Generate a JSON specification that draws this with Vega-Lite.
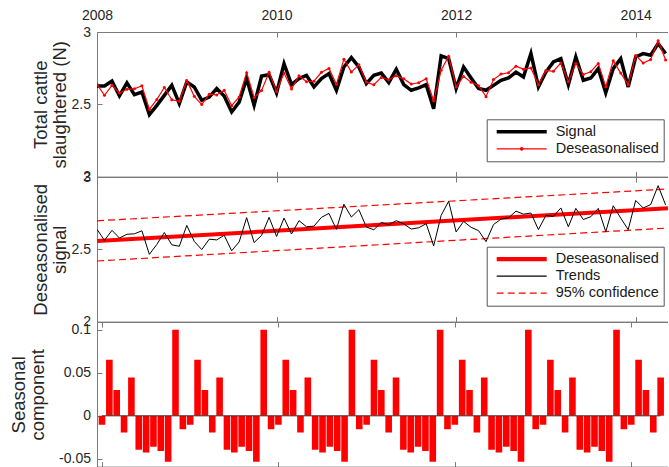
{
  "$schema": "https://vega.github.io/schema/vega-lite/v6.json",
  "background": "white",
  "padding": {"left": 9, "top": 8, "right": 0, "bottom": 0},
  "bounds": "flush",
  "spacing": 0,
  "datasets": {
    "monthly": [
      {"t": 2008, "signal": 2.627, "deseasonalised": 2.638, "seasonal": -0.0105},
      {"t": 2008.0833, "signal": 2.627, "deseasonalised": 2.562, "seasonal": 0.065},
      {"t": 2008.1667, "signal": 2.661, "deseasonalised": 2.631, "seasonal": 0.03},
      {"t": 2008.25, "signal": 2.558, "deseasonalised": 2.578, "seasonal": -0.0195},
      {"t": 2008.3333, "signal": 2.648, "deseasonalised": 2.604, "seasonal": 0.0445},
      {"t": 2008.4167, "signal": 2.567, "deseasonalised": 2.607, "seasonal": -0.0395},
      {"t": 2008.5, "signal": 2.585, "deseasonalised": 2.628, "seasonal": -0.0425},
      {"t": 2008.5833, "signal": 2.429, "deseasonalised": 2.465, "seasonal": -0.036},
      {"t": 2008.6667, "signal": 2.493, "deseasonalised": 2.534, "seasonal": -0.041},
      {"t": 2008.75, "signal": 2.562, "deseasonalised": 2.616, "seasonal": -0.0535},
      {"t": 2008.8333, "signal": 2.631, "deseasonalised": 2.531, "seasonal": 0.1},
      {"t": 2008.9167, "signal": 2.505, "deseasonalised": 2.521, "seasonal": -0.0155},
      {"t": 2009, "signal": 2.654, "deseasonalised": 2.665, "seasonal": -0.0105},
      {"t": 2009.0833, "signal": 2.62, "deseasonalised": 2.555, "seasonal": 0.065},
      {"t": 2009.1667, "signal": 2.528, "deseasonalised": 2.498, "seasonal": 0.03},
      {"t": 2009.25, "signal": 2.55, "deseasonalised": 2.57, "seasonal": -0.0195},
      {"t": 2009.3333, "signal": 2.609, "deseasonalised": 2.565, "seasonal": 0.0445},
      {"t": 2009.4167, "signal": 2.557, "deseasonalised": 2.597, "seasonal": -0.0395},
      {"t": 2009.5, "signal": 2.447, "deseasonalised": 2.49, "seasonal": -0.0425},
      {"t": 2009.5833, "signal": 2.515, "deseasonalised": 2.551, "seasonal": -0.036},
      {"t": 2009.6667, "signal": 2.678, "deseasonalised": 2.719, "seasonal": -0.041},
      {"t": 2009.75, "signal": 2.493, "deseasonalised": 2.547, "seasonal": -0.0535},
      {"t": 2009.8333, "signal": 2.696, "deseasonalised": 2.596, "seasonal": 0.1},
      {"t": 2009.9167, "signal": 2.705, "deseasonalised": 2.721, "seasonal": -0.0155},
      {"t": 2010, "signal": 2.578, "deseasonalised": 2.589, "seasonal": -0.0105},
      {"t": 2010.0833, "signal": 2.781, "deseasonalised": 2.716, "seasonal": 0.065},
      {"t": 2010.1667, "signal": 2.636, "deseasonalised": 2.606, "seasonal": 0.03},
      {"t": 2010.25, "signal": 2.678, "deseasonalised": 2.698, "seasonal": -0.0195},
      {"t": 2010.3333, "signal": 2.7, "deseasonalised": 2.656, "seasonal": 0.0445},
      {"t": 2010.4167, "signal": 2.62, "deseasonalised": 2.66, "seasonal": -0.0395},
      {"t": 2010.5, "signal": 2.678, "deseasonalised": 2.721, "seasonal": -0.0425},
      {"t": 2010.5833, "signal": 2.712, "deseasonalised": 2.748, "seasonal": -0.036},
      {"t": 2010.6667, "signal": 2.597, "deseasonalised": 2.638, "seasonal": -0.041},
      {"t": 2010.75, "signal": 2.758, "deseasonalised": 2.812, "seasonal": -0.0535},
      {"t": 2010.8333, "signal": 2.823, "deseasonalised": 2.723, "seasonal": 0.1},
      {"t": 2010.9167, "signal": 2.758, "deseasonalised": 2.774, "seasonal": -0.0155},
      {"t": 2011, "signal": 2.643, "deseasonalised": 2.654, "seasonal": -0.0105},
      {"t": 2011.0833, "signal": 2.7, "deseasonalised": 2.635, "seasonal": 0.065},
      {"t": 2011.1667, "signal": 2.716, "deseasonalised": 2.686, "seasonal": 0.03},
      {"t": 2011.25, "signal": 2.65, "deseasonalised": 2.67, "seasonal": -0.0195},
      {"t": 2011.3333, "signal": 2.742, "deseasonalised": 2.698, "seasonal": 0.0445},
      {"t": 2011.4167, "signal": 2.636, "deseasonalised": 2.676, "seasonal": -0.0395},
      {"t": 2011.5, "signal": 2.597, "deseasonalised": 2.64, "seasonal": -0.0425},
      {"t": 2011.5833, "signal": 2.613, "deseasonalised": 2.649, "seasonal": -0.036},
      {"t": 2011.6667, "signal": 2.636, "deseasonalised": 2.677, "seasonal": -0.041},
      {"t": 2011.75, "signal": 2.47, "deseasonalised": 2.524, "seasonal": -0.0535},
      {"t": 2011.8333, "signal": 2.835, "deseasonalised": 2.735, "seasonal": 0.1},
      {"t": 2011.9167, "signal": 2.816, "deseasonalised": 2.832, "seasonal": -0.0155},
      {"t": 2012, "signal": 2.609, "deseasonalised": 2.62, "seasonal": -0.0105},
      {"t": 2012.0833, "signal": 2.758, "deseasonalised": 2.693, "seasonal": 0.065},
      {"t": 2012.1667, "signal": 2.682, "deseasonalised": 2.652, "seasonal": 0.03},
      {"t": 2012.25, "signal": 2.609, "deseasonalised": 2.629, "seasonal": -0.0195},
      {"t": 2012.3333, "signal": 2.597, "deseasonalised": 2.553, "seasonal": 0.0445},
      {"t": 2012.4167, "signal": 2.631, "deseasonalised": 2.671, "seasonal": -0.0395},
      {"t": 2012.5, "signal": 2.666, "deseasonalised": 2.709, "seasonal": -0.0425},
      {"t": 2012.5833, "signal": 2.682, "deseasonalised": 2.718, "seasonal": -0.036},
      {"t": 2012.6667, "signal": 2.723, "deseasonalised": 2.764, "seasonal": -0.041},
      {"t": 2012.75, "signal": 2.689, "deseasonalised": 2.743, "seasonal": -0.0535},
      {"t": 2012.8333, "signal": 2.851, "deseasonalised": 2.751, "seasonal": 0.1},
      {"t": 2012.9167, "signal": 2.62, "deseasonalised": 2.636, "seasonal": -0.0155},
      {"t": 2013, "signal": 2.723, "deseasonalised": 2.734, "seasonal": -0.0105},
      {"t": 2013.0833, "signal": 2.793, "deseasonalised": 2.728, "seasonal": 0.065},
      {"t": 2013.1667, "signal": 2.816, "deseasonalised": 2.786, "seasonal": 0.03},
      {"t": 2013.25, "signal": 2.636, "deseasonalised": 2.656, "seasonal": -0.0195},
      {"t": 2013.3333, "signal": 2.827, "deseasonalised": 2.783, "seasonal": 0.0445},
      {"t": 2013.4167, "signal": 2.666, "deseasonalised": 2.706, "seasonal": -0.0395},
      {"t": 2013.5, "signal": 2.682, "deseasonalised": 2.725, "seasonal": -0.0425},
      {"t": 2013.5833, "signal": 2.747, "deseasonalised": 2.783, "seasonal": -0.036},
      {"t": 2013.6667, "signal": 2.58, "deseasonalised": 2.621, "seasonal": -0.041},
      {"t": 2013.75, "signal": 2.747, "deseasonalised": 2.801, "seasonal": -0.0535},
      {"t": 2013.8333, "signal": 2.816, "deseasonalised": 2.716, "seasonal": 0.1},
      {"t": 2013.9167, "signal": 2.62, "deseasonalised": 2.636, "seasonal": -0.0155},
      {"t": 2014, "signal": 2.827, "deseasonalised": 2.838, "seasonal": -0.0105},
      {"t": 2014.0833, "signal": 2.851, "deseasonalised": 2.786, "seasonal": 0.065},
      {"t": 2014.1667, "signal": 2.839, "deseasonalised": 2.809, "seasonal": 0.03},
      {"t": 2014.25, "signal": 2.92, "deseasonalised": 2.94, "seasonal": -0.0195},
      {"t": 2014.3333, "signal": 2.851, "deseasonalised": 2.807, "seasonal": 0.0445}
    ],
    "fit": [
      {"t": 2008, "trend": 2.557, "upper": 2.697, "lower": 2.419},
      {"t": 2014.36, "trend": 2.784, "upper": 2.917, "lower": 2.647}
    ]
  },
  "vconcat": [
    {
      "width": 571,
      "height": 144.6,
      "data": {"name": "monthly"},
      "layer": [
        {
          "mark": {"type": "line", "strokeWidth": 3.5, "clip": true},
          "encoding": {
            "x": {"field": "t", "type": "quantitative", "scale": {"domain": [2008, 2014.36], "nice": false, "zero": false},
                  "axis": {"orient": "top", "values": [2008, 2010, 2012, 2014], "format": "d", "title": null, "labelPadding": 14.5}},
            "y": {"field": "signal", "type": "quantitative", "scale": {"domain": [2, 3], "nice": false, "zero": false},
                  "axis": {"values": [2, 2.5, 3], "format": "~g", "titlePadding": 1.5, "title": ["Total cattle", "slaughtered (N)"]}},
            "color": {"datum": "Signal", "scale": {"domain": ["Signal", "Deseasonalised"], "range": ["#000000", "#ff0000"]},
                      "legend": {"orient": "none", "legendX": 389.7, "legendY": 87.3, "title": null, "symbolType": "stroke", "symbolSize": 2500, "symbolStrokeWidth": 1.2, "clipHeight": 17, "rowPadding": 0, "padding": 4, "symbolOffset": 5, "labelOffset": 8, "strokeColor": "#555555", "fillColor": "white", "labelFontSize": 14.5, "labelFont": "Liberation Sans", "labelColor": "#1a1a1a",
                                 "encode": {"symbols": {"update": {"shape": {"signal": "datum.value === 'Signal' ? 'M-1,-0.045H1M-1,0H1M-1,0.045H1' : 'M-1,0H1M-0.05,0A0.05,0.05,0,1,0,0.05,0A0.05,0.05,0,1,0,-0.05,0'"}}}}}}
          }
        },
        {
          "mark": {"type": "line", "strokeWidth": 1.2, "clip": true, "point": {"filled": true, "size": 9}},
          "encoding": {
            "x": {"field": "t", "type": "quantitative", "axis": {"orient": "bottom", "labels": false, "title": null, "values": [2008, 2010, 2012, 2014]}},
            "y": {"field": "deseasonalised", "type": "quantitative",
                  "axis": {"values": [2, 2.5, 3], "format": "~g", "titlePadding": 1.5, "title": ["Total cattle", "slaughtered (N)"]}},
            "color": {"datum": "Deseasonalised"}
          }
        }
      ],
      "resolve": {"axis": {"x": "independent"}}
    },
    {
      "width": 571,
      "height": 144.6,
      "layer": [
        {
          "data": {"name": "fit"},
          "mark": {"type": "line", "strokeWidth": 4, "clip": true},
          "encoding": {
            "x": {"field": "t", "type": "quantitative", "scale": {"domain": [2008, 2014.36], "nice": false, "zero": false},
                  "axis": {"orient": "top", "values": [2008, 2010, 2012, 2014], "labels": false, "title": null}},
            "y": {"field": "trend", "type": "quantitative", "scale": {"domain": [2, 3], "nice": false, "zero": false},
                  "axis": {"values": [2, 2.5, 3], "format": "~g", "titlePadding": 1.5, "title": ["Deseasonalised", "signal"]}},
            "color": {"datum": "Deseasonalised", "scale": {"domain": ["Deseasonalised", "Trends", "95% confidence"], "range": ["#ff0000", "#000000", "#ff0000"]},
                      "legend": {"orient": "none", "legendX": 389.7, "legendY": 69.7, "title": null, "symbolType": "stroke", "symbolSize": 2500, "symbolStrokeWidth": 1.2, "clipHeight": 17, "rowPadding": 0, "padding": 4, "symbolOffset": 5, "labelOffset": 8, "strokeColor": "#555555", "fillColor": "white", "labelFontSize": 14.5, "labelFont": "Liberation Sans", "labelColor": "#1a1a1a",
                                 "encode": {"symbols": {"update": {"shape": {"signal": "datum.value === 'Deseasonalised' ? 'M-1,-0.06H1M-1,-0.02H1M-1,0.02H1M-1,0.06H1' : 'M-1,0H1'"}, "strokeDash": {"signal": "datum.value === '95% confidence' ? [7, 4] : [1, 0]"}}}}}}
          }
        },
        {
          "data": {"name": "fit"},
          "mark": {"type": "line", "strokeWidth": 1.2, "strokeDash": [7, 4], "clip": true},
          "encoding": {
            "x": {"field": "t", "type": "quantitative", "axis": null},
            "y": {"field": "upper", "type": "quantitative",
                  "axis": {"values": [2, 2.5, 3], "format": "~g", "titlePadding": 1.5, "title": ["Deseasonalised", "signal"]}},
            "color": {"datum": "95% confidence"}
          }
        },
        {
          "data": {"name": "fit"},
          "mark": {"type": "line", "strokeWidth": 1.2, "strokeDash": [7, 4], "clip": true},
          "encoding": {
            "x": {"field": "t", "type": "quantitative", "axis": null},
            "y": {"field": "lower", "type": "quantitative",
                  "axis": {"values": [2, 2.5, 3], "format": "~g", "titlePadding": 1.5, "title": ["Deseasonalised", "signal"]}},
            "color": {"datum": "95% confidence"}
          }
        },
        {
          "data": {"name": "monthly"},
          "mark": {"type": "line", "strokeWidth": 1, "clip": true},
          "encoding": {
            "x": {"field": "t", "type": "quantitative", "axis": {"orient": "bottom", "labels": false, "title": null, "values": [2008, 2010, 2012, 2014]}},
            "y": {"field": "deseasonalised", "type": "quantitative",
                  "axis": {"values": [2, 2.5, 3], "format": "~g", "titlePadding": 1.5, "title": ["Deseasonalised", "signal"]}},
            "color": {"datum": "Trends"}
          }
        }
      ],
      "resolve": {"axis": {"x": "independent"}}
    },
    {
      "width": 571,
      "height": 144.6,
      "data": {"name": "monthly"},
      "layer": [
        {
          "mark": {"type": "bar", "color": "#ff0000", "size": 6.6, "clip": true},
          "encoding": {
            "x": {"field": "t", "type": "quantitative", "scale": {"domain": [2008, 2014.36], "nice": false, "zero": false},
                  "axis": {"orient": "top", "values": [2008, 2010, 2012, 2014], "labels": false, "title": null}},
            "y": {"field": "seasonal", "type": "quantitative", "scale": {"domain": [-0.059, 0.109], "nice": false},
                  "axis": {"values": [-0.05, 0, 0.05, 0.1], "format": "~g", "labelExpr": "replace(datum.label, '\u2212', '-')", "titlePadding": 11, "title": ["Seasonal", "component"]}}
          }
        },
        {
          "mark": {"type": "rule", "color": "#333333", "strokeWidth": 1, "clip": true},
          "encoding": {
            "x": {"aggregate": "min", "field": "t", "type": "quantitative", "axis": {"orient": "bottom", "labels": false, "title": null, "values": [2008, 2010, 2012, 2014]}},
            "x2": {"aggregate": "max", "field": "t"},
            "y": {"datum": 0, "type": "quantitative"}
          }
        }
      ],
      "resolve": {"axis": {"x": "independent"}}
    }
  ],
  "resolve": {"scale": {"color": "independent", "y": "independent"}, "legend": {"color": "independent"}},
  "config": {
    "view": {"stroke": null},
    "font": "Liberation Sans",
    "axis": {"labelFont": "Liberation Sans", "labelFontSize": 14, "labelColor": "#262626", "titleFont": "Liberation Sans", "titleFontSize": 18.5, "titleFontWeight": "normal", "titleColor": "#262626", "titleLineHeight": 19, "domainColor": "#7a7a7a", "domainWidth": 1, "tickColor": "#7a7a7a", "tickSize": -5, "tickWidth": 1, "grid": false, "labelFlush": false, "labelOverlap": false, "labelBound": false},
    "axisY": {"labelPadding": 11.5}
  }
}
